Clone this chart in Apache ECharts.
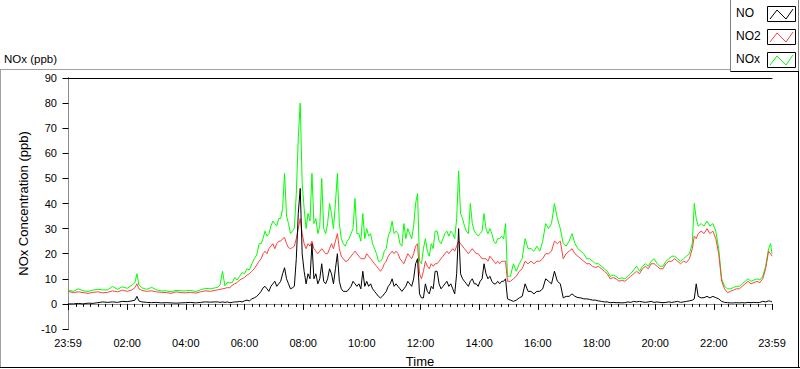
<!DOCTYPE html>
<html><head><meta charset="utf-8">
<script src="https://cdn.jsdelivr.net/npm/echarts@6/dist/echarts.min.js"></script>
<style>html,body{margin:0;padding:0;background:#fff;}#c{width:800px;height:369px;}</style>
</head><body><div id="c"></div>
<script>
// ---------- data (minutes after 00:00; -1 = 23:59 previous day) ----------
const SERIES_NAMES = ['NO', 'NO2', 'NOx'];
const X_LABEL_VALUES = [-1, 120, 240, 360, 480, 600, 720, 840, 960, 1080, 1200, 1320, 1439];
const Y_MIN = -10, Y_MAX = 90, Y_STEP = 10;

const T_A = [-1,10,20,30,40,50,60,70,80,90,100,110,120,130,136,140,144,150,160,170,180,190,200,210,220,230,240,250,260,270,280,290];
const NO2_A = [5,4.5,4.8,4.5,4.2,4.6,4.8,4.4,4.6,5.2,4.8,5.5,5.0,5.6,6.5,8,6,5.4,5.0,5.2,4.8,4.6,4.5,4.2,4.8,4.5,4.4,4.6,4.3,4.8,5.2,5.0];
const NO_A = [0,0,0.2,0,0.3,0.2,0.5,0.8,0.6,0.8,0.6,1.0,0.9,1.2,1.5,3.0,1.2,0.8,0.6,0.5,0.6,0.4,0.5,0.4,0.3,0.4,0.5,0.6,0.4,0.6,0.8,0.7];
const NOX_A = [5.5,5,6,5.2,5,5.5,5.8,5.6,5.6,7,5.8,6.8,6.2,7.5,8.5,12,7.5,6.4,5.8,6.6,5.6,5.2,5.2,4.8,5.4,5.2,5.2,5.4,4.9,5.6,6.2,6.0];

const T_B = [300,305,310,315,320,325,330,335,340,345,350,355,360,365,370,375,380,385,390];
const NO2_B = [5.4,5.6,5.8,6.0,6.2,6.5,6.4,7.5,8,8.5,9.5,10,10.5,11.5,12,13,14,15.5,17];
const NO_B = [0.8,0.8,0.6,0.8,0.6,0.8,0.5,0.6,0.8,0.8,1.0,0.8,1.2,1.5,1.2,2.0,2.4,3.0,4.0];
const NOX_B = [6.4,6.6,7.5,13,7.2,8.5,8.4,8.5,10.5,9.5,11,12.5,12,14,13.5,16,18,19.5,24];

const T_C = [394,398,402,406,410,414,418,422,426,430,
  434,438,442,446,450,454,458,462,466,470,
  474,478,482,486,490,494,498,502,506,510,
  514,518,522,526,530,534,538,542,546,550,
  554,558,562,566,570,574,578,582,586,590,
  594,598,602,606,610,614,618,622,626,630,
  634,638,642,646,650,654,658,662,666,670,
  674,678,682,686,690,694,698,702,706,710,
  714,718,722,726,730,734,738,742,746,750,
  754,758,762,766,770,774,778,782,786,790,
  794,798,802,806,810,814,818,822,826,830,
  834,838,842,846,850,854,858,862,866,870,
  874,878,882,886,890,894,898];
const NO2_C = [18,20,21,20,22,23,24,22,24,25,
  25,26,26.4,24,22.4,22,22.4,23,26,30,
  34,28,24,22,24,23,25,22,21,20,
  21,22,21,20,20,22,24,22,25,28,
  22,19,18,17,17,18,19,20,21,20,
  19,18,18,18,20,19,18,17,16,15,
  14,13,14,16,17,19,20,21,20,21,
  20,18,17,16,18,20,19,18,20,23,
  24,12,10,13,17,15,14,16,15,16,
  16,17,18,19,20,21,20,21,22,21,
  23,25,24,23,22,21,20,21,22,21,
  20,20,19,18,18,18,17,19,18,17,
  16,17,16,17,17,17,9];
const NO_C = [5,6.4,7,6,5,7,8,9,7,8,
  9,12,14.4,10,8,6,6.4,7,18,36,
  46,20,13,8,12,10,24,10,12,8,
  10,16,9,8,10,14,12,8,14,20,
  9,6,5,5,5,6,7,9,8,7,
  8,6,13,7,9,7,8,6,5,4,
  3,2.4,3,4,5,7,8,10,7,8,
  7,6,5,6,7,9,8,7,10,16,
  18,4,2.4,2.4,8,5,4,7,6,13,
  13,8,6,7,8,9,7,8,6,4,
  12,30,12,10,9,8,7,9,10,8,
  8,7,9,10,16,12,10,11,9,8,
  8,9,8,9,9,10,2];
const NOX_C = [24,26,29,27,28,31,33,32,31,34,
  34,38,52,35,32,28,29,30,44,66,
  80,48,38,30,36,33,52,32,34,28,
  31,50,30,28,32,40,36,30,40,52,
  32,26,24,23,25,26,28,30,42,28,
  28,25,36,26,30,27,28,24,22,20,
  17,17,18,21,22,27,29,33,28,29,
  28,24,23,32,26,30,28,26,31,40,
  44,17,16,22,26,21,19,24,22,29,
  29,25,24,26,28,29,27,29,28,26,
  34,53,36,34,31,29,28,40,32,29,
  28,27,28,29,36,30,28,30,28,25,
  24,26,26,27,26,32,11];

const T_D = [904,910,916,922,928,934,940,946,952,958,964,970,976,982,988,994,1000,1006,1012,1018,1024,1030,1036,1042,1048,1054,1060,1066,1072,1078];
const NO2_D = [9,10,11,13,14,17,16,17,16,17,17,18,20,20,21,25,24,25,18,20,21,22,20,19,18,17,16,16,15,14.5];
const NO_D = [1.5,1,1.5,2.4,3,8,5,5,4,5,5,6,10,9,8,13,9,8,2.4,3,3,4,3,2.5,2.4,2,2,1.8,1.5,1.5];
const NOX_D = [11,16,13,16,18,26,22,22,21,23,21,25,32,30,32,40,34,30,24,23,25,28,24,22,21,20,18,18,17,16];

const T_E = [1084,1090,1096,1102,1108,1114,1120,1126,1132,1138,
  1144,1150,1156,1162,1168,1174,1180,1186,1192,1198,
  1204,1210,1216,1222,1228,1234,1240,1246,1252,1258,
  1264,1270,1276,1280,1284,1288,1294,1300,1306,1312,
  1318,1324,1330,1336,1342,1348,1354,1360,1366,1372,
  1378,1384,1390,1396,1402,1408,1414,1420,1426,1432,
  1436,1439];
const NO2_E = [15,14,13,12,10,10.5,10,9,9.5,9,
  10,11,12,13,12,14,15,14,16,16,
  15,14,14,16,17,17,18,17,16,17,
  16.5,18,22,27,26,28,29,28,30,28,
  29,26,20,9,6,4.5,5,5.5,6,6,
  7,8,9,8,8.5,9,8.5,10,14,21,
  20,19];
const NO_E = [1.2,1,0.8,0.8,0.5,0.6,0.5,0.5,0.4,0.5,
  0.8,0.6,1,0.8,1,0.8,0.6,0.8,1,0.6,
  0.8,0.6,0.5,0.6,0.8,0.6,0.8,1,0.6,0.8,
  1,1.2,1.5,2,8,3,2.4,2.5,3,2.4,
  3,2.5,2,1,0.6,0.5,0.4,0.4,0.5,0.4,
  0.5,0.4,0.6,0.5,0.6,0.5,0.6,1,0.8,1.2,
  1,0.8];
const NOX_E = [16,15,14,13,11,11.5,11,10,10.4,10,
  11,12,13.5,15,13,15,16,15,17,18,
  16,15,15,17,18,19,19,18,17,18,
  19,20,24,40,34,31,32,31,33,31,
  32,29,22,10,7,6,6,6.5,7,7,
  8,9,10,9,9.5,10,9.5,11,15,22,
  24,20];

// ---------- build ----------
const TIME = [].concat(T_A, T_B, T_C, T_D, T_E);
const NO = [].concat(NO_A, NO_B, NO_C, NO_D, NO_E);
const NO2 = [].concat(NO2_A, NO2_B, NO2_C, NO2_D, NO2_E);
const NOX = [].concat(NOX_A, NOX_B, NOX_C, NOX_D, NOX_E);
const pairs = v => TIME.map((t, i) => [t, v[i]]);

const pad = n => (n < 10 ? '0' : '') + n;
const fmtTime = v => { const m = ((Math.round(v) % 1440) + 1440) % 1440; return pad(Math.floor(m / 60)) + ':' + pad(m % 60); };

const MINOR = [];
for (let v = 0; v < 1440; v += 15) if (v % 120 !== 0) MINOR.push(v);
MINOR.push(0);

const FONT = 'Liberation Sans';
const COLORS = {NO: '#000000', NO2: '#ff4040', NOx: '#00ff00'};
const chart = echarts.init(document.getElementById('c'), null, {renderer: 'svg'});

const legendItems = [];
SERIES_NAMES.forEach((n, i) => {
  const y0 = 6 + i * 23;
  legendItems.push({type: 'text', left: 736, top: y0 + 1, style: {text: n, font: '12px ' + FONT, fill: '#000'}});
  legendItems.push({type: 'rect', shape: {x: 767.5, y: y0 + 0.5, width: 28, height: 15}, style: {fill: '#fff', stroke: '#000', lineWidth: 1}});
  legendItems.push({type: 'polyline', shape: {points: [[770, y0 + 13], [777, y0 + 4], [786, y0 + 13], [793, y0 + 3]]}, style: {stroke: COLORS[n], lineWidth: 1, fill: null}});
});

chart.setOption({
  animation: false,
  backgroundColor: '#fff',
  title: {text: 'NOx (ppb)', left: 4, top: 53, padding: 0, textStyle: {fontFamily: FONT, fontSize: 11.5, fontWeight: 'normal', color: '#000'}},
  grid: {left: 68, right: 28, top: 78, bottom: 40, outerBoundsMode: 'none', containLabel: false},
  xAxis: [{
    type: 'value', min: -1, max: 1439, position: 'bottom',
    name: 'Time', nameLocation: 'middle', nameGap: 26,
    nameTextStyle: {fontFamily: FONT, fontSize: 13, color: '#000'},
    axisLine: {show: true, lineStyle: {color: '#8c8c8c', width: 1}},
    axisTick: {show: true, customValues: X_LABEL_VALUES.concat([0]), length: 6, lineStyle: {color: '#000'}},
    axisLabel: {customValues: X_LABEL_VALUES, formatter: fmtTime, margin: 8, fontFamily: FONT, fontSize: 11, color: '#000', showMinLabel: true, showMaxLabel: true},
    splitLine: {show: false}
  }, {
    type: 'value', min: -1, max: 1439, position: 'bottom',
    axisLine: {show: false},
    axisTick: {show: true, customValues: MINOR, length: 3, lineStyle: {color: '#000'}},
    axisLabel: {show: false}, splitLine: {show: false}
  }, {
    type: 'value', min: -1, max: 1439, position: 'top',
    axisLine: {show: true, lineStyle: {color: '#000', width: 1}},
    axisTick: {show: false}, axisLabel: {show: false}, splitLine: {show: false}
  }],
  yAxis: [{
    type: 'value', min: Y_MIN, max: Y_MAX, interval: Y_STEP, position: 'left',
    name: 'NOx Concentration (ppb)', nameLocation: 'middle', nameRotate: 90, nameGap: 31,
    nameTextStyle: {fontFamily: FONT, fontSize: 13, color: '#000'},
    axisLine: {show: true, lineStyle: {color: '#000', width: 1}},
    axisTick: {show: true, length: 6, lineStyle: {color: '#000'}},
    axisLabel: {margin: 11, fontFamily: FONT, fontSize: 11, color: '#000'},
    splitLine: {show: false}
  }, {
    type: 'value', min: Y_MIN, max: Y_MAX, position: 'right',
    axisLine: {show: true, lineStyle: {color: '#8c8c8c', width: 1}},
    axisTick: {show: false}, axisLabel: {show: false}, splitLine: {show: false}
  }],
  graphic: [
    {type: 'line', shape: {x1: 0, y1: 69.5, x2: 730, y2: 69.5}, style: {stroke: '#a0a0a0', lineWidth: 1}},
    {type: 'line', shape: {x1: 0.5, y1: 69.5, x2: 0.5, y2: 367.5}, style: {stroke: '#a0a0a0', lineWidth: 1}},
    {type: 'line', shape: {x1: 0, y1: 367.5, x2: 800, y2: 367.5}, style: {stroke: '#000', lineWidth: 1}},
    {type: 'line', shape: {x1: 798.5, y1: 0, x2: 798.5, y2: 368}, style: {stroke: '#000', lineWidth: 1}},
    {type: 'rect', shape: {x: 730.5, y: -1, width: 68, height: 72.5}, style: {fill: '#fff', stroke: null}},
    {type: 'line', shape: {x1: 730.5, y1: 0, x2: 730.5, y2: 71.5}, style: {stroke: '#808080', lineWidth: 1}},
    {type: 'line', shape: {x1: 730.5, y1: 71.5, x2: 799, y2: 71.5}, style: {stroke: '#000', lineWidth: 1}}
  ].concat(legendItems),
  series: [
    {name: 'NOx', type: 'line', data: pairs(NOX), showSymbol: false, symbol: 'none', lineStyle: {color: COLORS.NOx, width: 1}, itemStyle: {color: COLORS.NOx}},
    {name: 'NO2', type: 'line', data: pairs(NO2), showSymbol: false, symbol: 'none', lineStyle: {color: COLORS.NO2, width: 1}, itemStyle: {color: COLORS.NO2}},
    {name: 'NO', type: 'line', data: pairs(NO), showSymbol: false, symbol: 'none', lineStyle: {color: COLORS.NO, width: 1}, itemStyle: {color: COLORS.NO}}
  ]
});
</script></body></html>
